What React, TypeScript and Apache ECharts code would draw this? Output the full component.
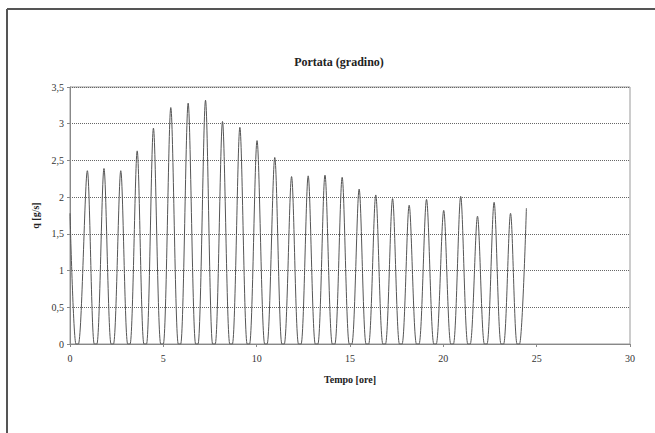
import React, { useEffect, useRef } from "react";
import * as echarts from "echarts";

// Peaks of the flow signal (time in hours, flow in g/s)
const peakTimes = [0, 0.93, 1.82, 2.72, 3.6, 4.47, 5.4, 6.33, 7.26, 8.17, 9.1, 10.02, 10.97, 11.87, 12.76, 13.66, 14.58, 15.49, 16.38, 17.28, 18.17, 19.1, 20.02, 20.93, 21.83, 22.72, 23.6, 24.45];
const peakValues = [1.78, 2.36, 2.39, 2.36, 2.63, 2.94, 3.22, 3.28, 3.32, 3.03, 2.95, 2.77, 2.54, 2.28, 2.29, 2.3, 2.27, 2.11, 2.03, 1.98, 1.89, 1.97, 1.82, 2.01, 1.74, 1.93, 1.78, 1.85];
// zero-flow intervals following each peak
const troughFrom = [0.32, 1.3, 2.2, 3.09, 3.96, 4.86, 5.8, 6.73, 7.64, 8.56, 9.49, 10.43, 11.35, 12.24, 13.14, 14.05, 14.96, 15.86, 16.76, 17.65, 18.56, 19.49, 20.4, 21.31, 22.2, 23.09, 23.95];
const troughTo = [0.45, 1.44, 2.33, 3.22, 4.1, 5.0, 5.93, 6.86, 7.78, 8.7, 9.62, 10.56, 11.48, 12.38, 13.28, 14.19, 15.1, 16.0, 16.9, 17.79, 18.7, 19.62, 20.54, 21.44, 22.34, 23.23, 24.08];

const titleText = "Portata (gradino)";
const xName = "Tempo [ore]";
const yName = "q [g/s]";

const FONT = "serif";

export default function App() {
  const ref = useRef<HTMLDivElement>(null);
  useEffect(() => {
    if (!ref.current) return;
    const chart = echarts.init(ref.current, undefined, { renderer: "svg" });
    const data: [number, number][] = [];
    for (let i = 0; i < peakTimes.length; i++) {
      data.push([peakTimes[i], peakValues[i]]);
      if (i < troughFrom.length) {
        data.push([troughFrom[i], 0]);
        data.push([troughTo[i], 0]);
      }
    }
    chart.setOption({
      animation: false,
      backgroundColor: "#ffffff",
      textStyle: { fontFamily: FONT },
      title: {
        text: titleText,
        left: 334,
        top: 51,
        textAlign: "center",
        textStyle: { fontFamily: FONT, fontSize: 12, fontWeight: "bold", color: "#222" },
      },
      graphic: [
        { type: "line", shape: { x1: 7, y1: 9, x2: 655, y2: 9 }, style: { stroke: "#555", lineWidth: 2 } },
        { type: "line", shape: { x1: 7, y1: 9, x2: 7, y2: 433 }, style: { stroke: "#555", lineWidth: 2 } },
      ],
      grid: {
        left: 70,
        right: 25,
        top: 87,
        bottom: 89,
        show: true,
        borderColor: "#999",
        borderWidth: 1,
        backgroundColor: "transparent",
      },
      xAxis: {
        type: "value",
        min: 0,
        max: 30,
        interval: 5,
        name: xName,
        nameLocation: "middle",
        nameGap: 30,
        nameTextStyle: { fontFamily: FONT, fontSize: 10, fontWeight: "bold", color: "#222" },
        axisLine: { show: true, lineStyle: { color: "#888", width: 1 } },
        axisTick: { show: true, length: 3, lineStyle: { color: "#888" } },
        axisLabel: { fontFamily: FONT, fontSize: 10, color: "#333", margin: 9 },
        splitLine: { show: false },
      },
      yAxis: {
        type: "value",
        min: 0,
        max: 3.5,
        interval: 0.5,
        name: yName,
        nameLocation: "middle",
        nameGap: 29,
        nameRotate: 90,
        nameTextStyle: { fontFamily: FONT, fontSize: 10, fontWeight: "bold", color: "#222" },
        axisLine: { show: true, lineStyle: { color: "#888", width: 1 } },
        axisTick: { show: true, length: 3, lineStyle: { color: "#888" } },
        axisLabel: {
          fontFamily: FONT,
          fontSize: 10,
          color: "#333",
          margin: 6,
          formatter: (v: number) => String(v).replace(".", ","),
        },
        splitLine: { show: true, lineStyle: { color: "#666", type: "dotted", width: 1 } },
      },
      series: [
        {
          type: "line",
          data,
          smooth: 0.3,
          showSymbol: false,
          symbol: "none",
          lineStyle: { color: "#555", width: 1 },
          z: 3,
        },
      ],
    });
    return () => chart.dispose();
  }, []);
  return (
    <div
      ref={ref}
      style={{ position: "absolute", left: 0, top: 0, width: 655, height: 433 }}
    />
  );
}
